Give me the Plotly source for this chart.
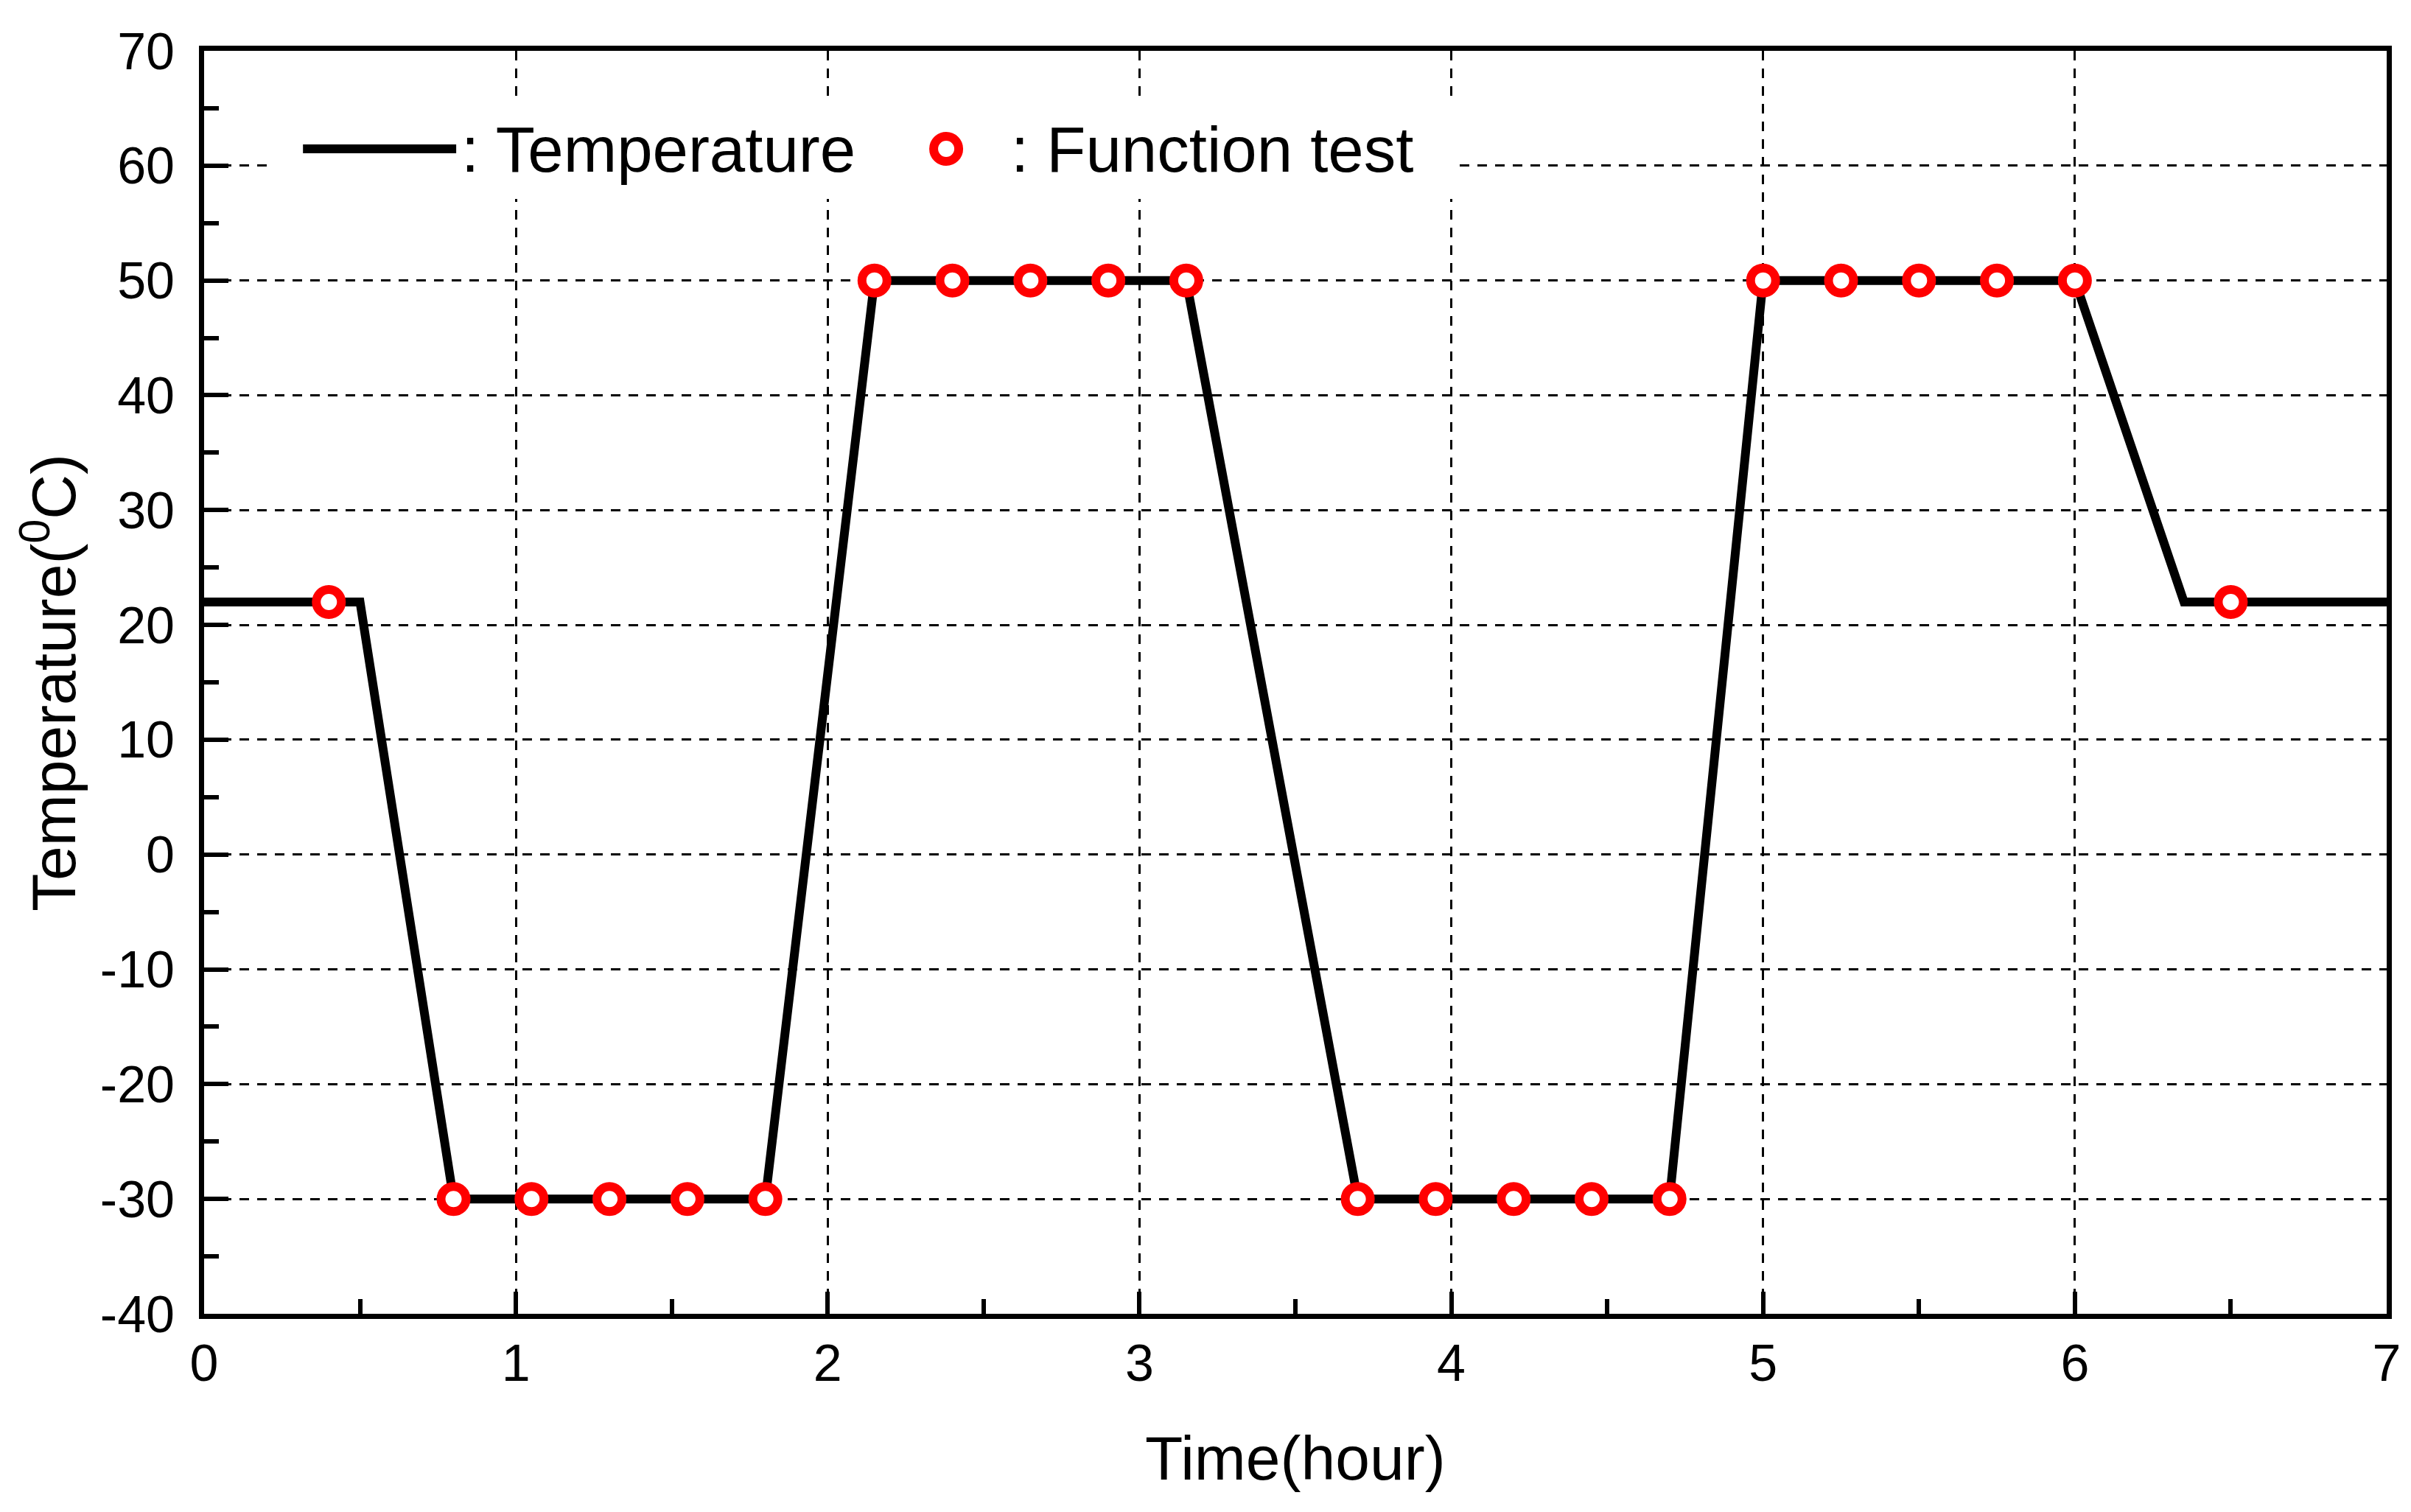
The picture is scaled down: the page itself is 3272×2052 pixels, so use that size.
import plotly.graph_objects as go

# Temperature profile (hours, deg C)
temp_time = [0, 0.5, 0.8, 1.8, 2.15, 3.15, 3.7, 4.7, 5.0, 6.0, 6.35, 7.0]
temp_value = [22, 22, -30, -30, 50, 50, -30, -30, 50, 50, 22, 22]

# Function test points
test_time = [0.4, 0.8, 1.05, 1.3, 1.55, 1.8, 2.15, 2.4, 2.65, 2.9, 3.15,
             3.7, 3.95, 4.2, 4.45, 4.7, 5.0, 5.25, 5.5, 5.75, 6.0, 6.5]
test_value = [22, -30, -30, -30, -30, -30, 50, 50, 50, 50, 50,
              -30, -30, -30, -30, -30, 50, 50, 50, 50, 50, 22]

x_ticks = [0, 1, 2, 3, 4, 5, 6, 7]
x_tick_labels = ["0", "1", "2", "3", "4", "5", "6", "7"]
y_ticks = [-40, -30, -20, -10, 0, 10, 20, 30, 40, 50, 60, 70]
y_tick_labels = ["-40", "-30", "-20", "-10", "0", "10", "20", "30", "40", "50", "60", "70"]

x_title = "Time(hour)"
y_title = "Temperature(<sup>0</sup>C)"
legend_labels = [": Temperature", ": Function test"]

FONT = "Liberation Sans, Arial, sans-serif"

fig = go.Figure()
fig.add_trace(go.Scatter(
    x=temp_time, y=temp_value, mode="lines",
    line=dict(color="black", width=12),
    showlegend=False, cliponaxis=False,
))
fig.add_trace(go.Scatter(
    x=test_time, y=test_value, mode="markers",
    marker=dict(symbol="circle", size=34, color="white",
                line=dict(color="#ff0000", width=12)),
    showlegend=False, cliponaxis=False,
))

axis_common = dict(
    showline=True, linewidth=7, linecolor="black", mirror=True,
    ticks="inside", tickcolor="black", tickwidth=6,
    showgrid=True, gridcolor="black", gridwidth=2.5, griddash="13px,11px",
    zeroline=False,
    tickfont=dict(family=FONT, size=70, color="black"),
)

fig.update_xaxes(
    **axis_common,
    range=[0, 7], tickvals=x_ticks, ticktext=x_tick_labels, ticklen=30,
    minor=dict(dtick=0.5, ticks="inside", ticklen=20, tickwidth=6,
               tickcolor="black", showgrid=False),
    ticklabelstandoff=0,
)
fig.update_yaxes(
    **axis_common,
    range=[-40, 70], tickvals=y_ticks, ticktext=y_tick_labels, ticklen=33,
    minor=dict(dtick=5, ticks="inside", ticklen=20, tickwidth=6,
               tickcolor="black", showgrid=False),
    ticklabelstandoff=19,
)

# Custom legend (white box, line key, marker key, labels)
shapes = [
    dict(type="rect", xref="paper", yref="paper", x0=0.0287, x1=0.5723,
         y0=0.8827, y1=0.961, fillcolor="white", line=dict(width=0),
         layer="above"),
    dict(type="line", xref="paper", yref="paper", x0=0.0453, x1=0.1155,
         y0=0.9224, y1=0.9224, line=dict(color="black", width=12),
         layer="above"),
    dict(type="circle", xref="paper", yref="paper", xsizemode="pixel",
         ysizemode="pixel", xanchor=0.34, yanchor=0.9224,
         x0=-17, x1=17, y0=-17, y1=17, fillcolor="white",
         line=dict(color="#ff0000", width=12), layer="above"),
]
annotations = [
    dict(xref="paper", yref="paper", x=0.117, y=0.9224, xanchor="left",
         yanchor="middle", text=legend_labels[0], showarrow=False,
         font=dict(family=FONT, size=87, color="black")),
    dict(xref="paper", yref="paper", x=0.369, y=0.9224, xanchor="left",
         yanchor="middle", text=legend_labels[1], showarrow=False,
         font=dict(family=FONT, size=87, color="black")),
    dict(xref="paper", yref="paper", x=0.5, y=-0.1144, xanchor="center",
         yanchor="middle", text=x_title, showarrow=False,
         font=dict(family=FONT, size=84, color="black")),
    dict(xref="paper", yref="paper", x=-0.0709, y=0.5, xanchor="center",
         yanchor="middle", text=y_title, showarrow=False, textangle=-90,
         font=dict(family=FONT, size=84, color="black")),
]

fig.update_layout(
    width=3272, height=2052,
    margin=dict(l=277, r=33, t=69, b=269, autoexpand=False),
    paper_bgcolor="white", plot_bgcolor="white",
    shapes=shapes, annotations=annotations,
    showlegend=False,
)

fig.write_html("out.html")
